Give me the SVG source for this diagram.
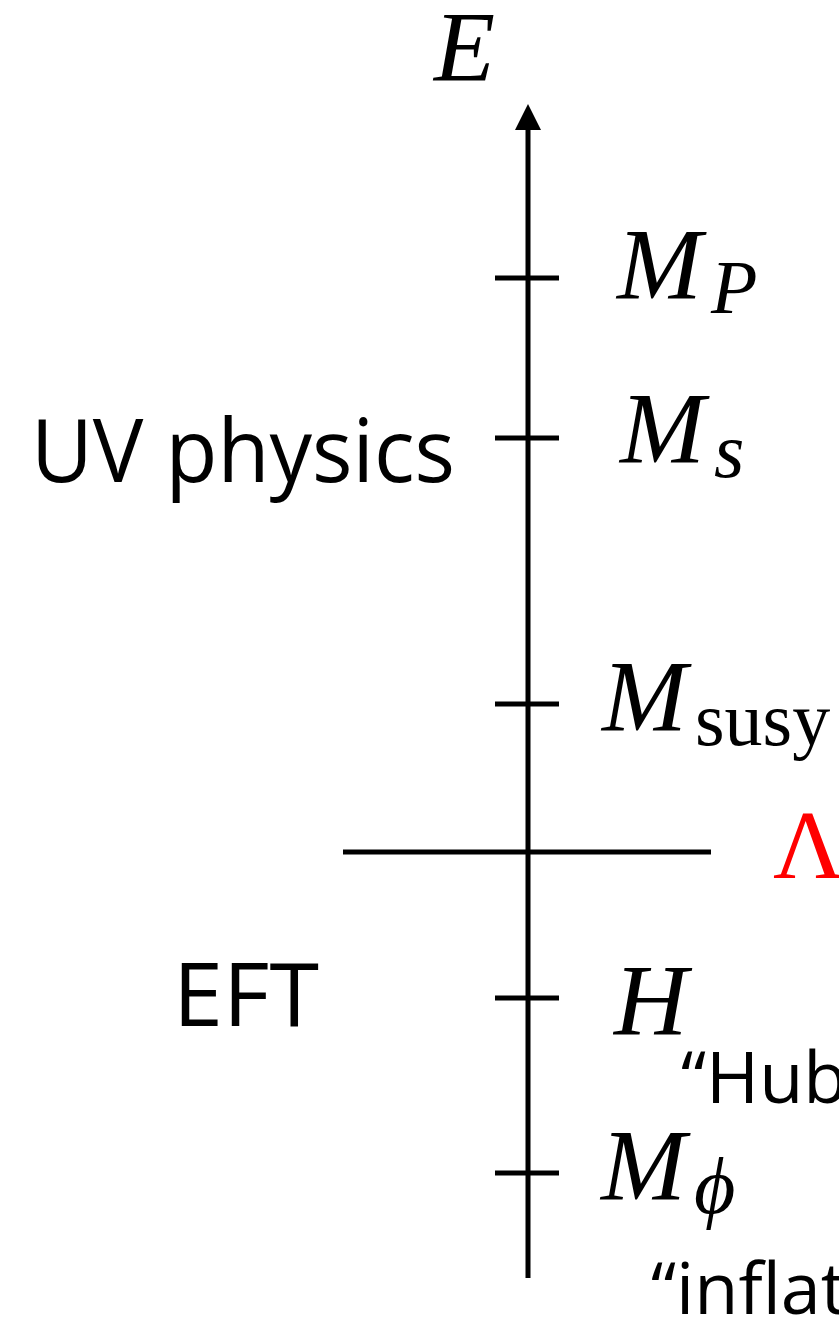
<svg xmlns="http://www.w3.org/2000/svg" width="839" height="1320" viewBox="0 0 839 1320">
<defs>
<style>
.ln{stroke:#000;stroke-width:5;fill:none}
.m{font-family:"Liberation Serif",serif;font-style:italic;fill:#000}
.r{font-family:"Liberation Serif",serif;fill:#000}
.s{font-family:"Open Sans","Noto Sans",sans-serif;font-weight:400;fill:#000}
</style>
</defs>
<rect width="839" height="1320" fill="#fff"/>
<g id="connectors">
<line class="ln" x1="528" y1="1278" x2="528" y2="125"/>
<polygon points="528,104 515,130 541,130" fill="#000"/>
<line class="ln" x1="343" y1="852" x2="711" y2="852"/>
</g>
<g id="axis-label"><text class="m" x="434" y="80" font-size="100">E</text></g>
<g id="tick-MP">
<line class="ln" x1="495" y1="278" x2="559" y2="278"/>
<text class="m" x="617" y="299" font-size="102">M</text>
<text class="m" x="711" y="313" font-size="76">P</text>
</g>
<g id="tick-Ms">
<line class="ln" x1="495" y1="438" x2="559" y2="438"/>
<text class="m" x="620" y="463" font-size="102">M</text>
<text class="m" x="714" y="477" font-size="78">s</text>
</g>
<g id="tick-Msusy">
<line class="ln" x1="495" y1="704" x2="559" y2="704"/>
<text class="m" x="602" y="731" font-size="102">M</text>
<text class="r" x="695" y="745" font-size="76">susy</text>
</g>
<g id="cutoff">
<text class="r" x="773" y="878" font-size="98" style="fill:#ff0000">Λ</text>
</g>
<g id="tick-H">
<line class="ln" x1="495" y1="998" x2="559" y2="998"/>
<text class="m" x="614" y="1035" font-size="102">H</text>
<text class="s" x="681" y="1103" font-size="72">“Hub</text>
</g>
<g id="tick-Mphi">
<line class="ln" x1="495" y1="1173" x2="559" y2="1173"/>
<text class="m" x="601" y="1200" font-size="102">M</text>
<text class="m" x="694" y="1213" font-size="80">ϕ</text>
<text class="s" x="651" y="1314" font-size="72">“inflat</text>
</g>
<g id="region-UV"><text class="s" x="31" y="482" font-size="88" textLength="424" lengthAdjust="spacingAndGlyphs">UV physics</text></g>
<g id="region-EFT"><text class="s" x="173" y="1026" font-size="88" textLength="146" lengthAdjust="spacingAndGlyphs">EFT</text></g>
</svg>
